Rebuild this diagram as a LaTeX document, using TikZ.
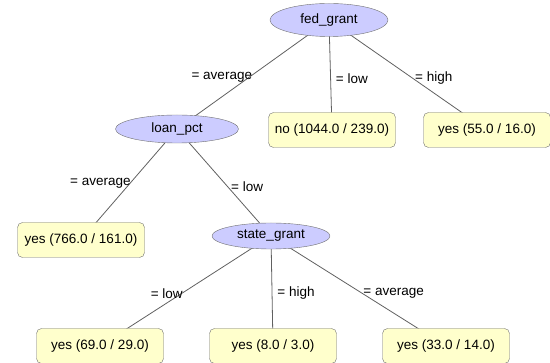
\documentclass[tikz,border=0pt]{standalone}
\usepackage{fontspec}
\setmainfont{Liberation Sans}
\usetikzlibrary{shapes.geometric,backgrounds}
\definecolor{splitfill}{HTML}{CCCCFF}
\definecolor{leaffill}{HTML}{FFFFCC}
\definecolor{framegray}{HTML}{707070}
\definecolor{edgegray}{HTML}{606060}

\begin{document}
\begin{tikzpicture}[x=1pt,y=-1pt,font=\fontsize{13.5}{15}\selectfont,
    split/.style={ellipse,draw=framegray,fill=splitfill,inner sep=0pt,minimum width=118pt,minimum height=28pt},
    leaf/.style={draw=framegray,fill=leaffill,rounded corners=5pt,inner sep=0pt,minimum width=127pt,minimum height=35pt},
    branch/.style={draw=edgegray,line width=0.8pt},
    cond/.style={inner sep=0pt}]
    \useasboundingbox (0,0) rectangle (550,363);
    % split nodes
    \node[split,minimum height=33pt] (fed) at (329,20) {fed\_grant};
    \node[split,minimum width=123pt] (loan) at (177,129) {loan\_pct};
    \node[split,minimum height=26pt] (state) at (271,236) {state\_grant};
    % leaves
    \node[leaf] (no1044) at (332,130) {no (1044.0 / 239.0)};
    \node[leaf] (yes55) at (487,130) {yes (55.0 / 16.0)};
    \node[leaf] (yes766) at (81,240) {yes (766.0 / 161.0)};
    \node[leaf] (yes69) at (100,346) {yes (69.0 / 29.0)};
    \node[leaf] (yes8) at (273,346) {yes (8.0 / 3.0)};
    \node[leaf] (yes33) at (446,346) {yes (33.0 / 14.0)};
    % branches
    \begin{scope}[on background layer]
      \draw[branch] (fed.center) -- node[cond,pos=0.53,anchor=east,xshift=4pt] {= average} (loan.center);
      \draw[branch] (fed.center) -- node[cond,pos=0.53,anchor=west,xshift=5pt] {= low} (no1044.center);
      \draw[branch] (fed.center) -- node[cond,pos=0.53,anchor=west,xshift=2pt] {= high} (yes55.center);
      \draw[branch] (loan.center) -- node[cond,pos=0.49,anchor=east,xshift=1pt] {= average} (yes766.center);
      \draw[branch] (loan.center) -- node[cond,pos=0.54,anchor=west,xshift=3pt] {= low} (state.center);
      \draw[branch] (state.center) -- node[cond,pos=0.52,anchor=east,xshift=1pt] {= low} (yes69.center);
      \draw[branch] (state.center) -- node[cond,pos=0.52,anchor=west,xshift=5pt] {= high} (yes8.center);
      \draw[branch] (state.center) -- node[cond,pos=0.52,anchor=west,xshift=1pt] {= average} (yes33.center);
    \end{scope}
  \end{tikzpicture}
\end{document}
